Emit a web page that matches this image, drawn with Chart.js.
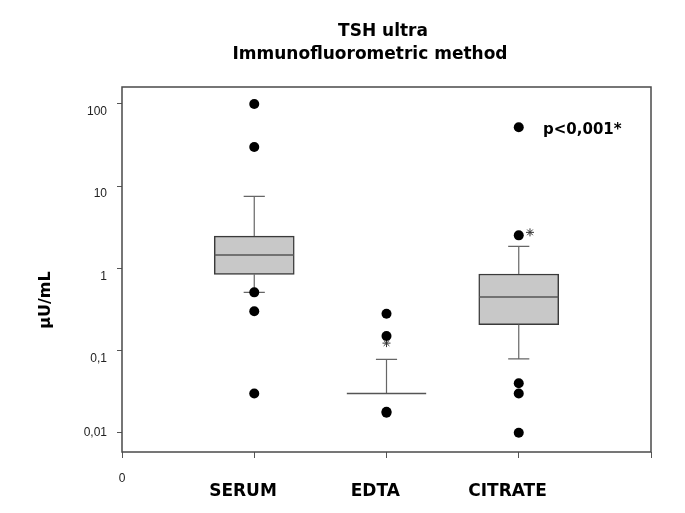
<!DOCTYPE html>
<html>
<head>
<meta charset="utf-8">
<script src="https://cdn.jsdelivr.net/npm/chart.js@4"></script>
<style>
  html, body { margin: 0; padding: 0; background: #fff; }
  #wrap { width: 685px; height: 513px; }
</style>
</head>
<body>
<div id="wrap"><canvas id="tsh-chart"></canvas></div>
<script>
// values (µU/mL)
const categories = ['SERUM', 'EDTA', 'CITRATE'];
const whiskerLow = [0.51, null, 0.079];
const q1 = [0.845, 0.03, 0.207];
const median = [1.45, 0.03, 0.448];
const q3 = [2.47, 0.03, 0.853];
const whiskerHigh = [7.5, 0.078, 1.85];
const outliers = [
  [100, 30, 0.51, 0.30, 0.03],
  [0.28, 0.15, 0.0175, 0.018],
  [52, 2.52, 0.04, 0.03, 0.01]
];
// asterisk marks (x in category units, y in µU/mL)
const asteriskX = [2, 3.085];
const asteriskY = [0.123, 2.74];

const yTickValues = [0.01, 0.1, 1, 10, 100];
const yTickLabels = ['0,01', '0,1', '1', '10', '100'];

const BOX_HALF = 0.3;
const CAP_HALF = 0.08;
const LABEL_SHIFT = 0.085;

const FONT = '"DejaVu Sans", Verdana, sans-serif';
const TICK_FONT = '"Liberation Sans", Arial, sans-serif';

function medianSegments() {
  const pts = [];
  categories.forEach((c, i) => {
    const x = i + 1;
    pts.push({ x: x - BOX_HALF, y: median[i] }, { x: x + BOX_HALF, y: median[i] }, { x: x, y: null });
  });
  return pts;
}

function whiskerSegments() {
  const pts = [];
  categories.forEach((c, i) => {
    const x = i + 1;
    if (whiskerHigh[i] != null) {
      pts.push({ x: x, y: q3[i] }, { x: x, y: whiskerHigh[i] }, { x: x, y: null });
      pts.push({ x: x - CAP_HALF, y: whiskerHigh[i] }, { x: x + CAP_HALF, y: whiskerHigh[i] }, { x: x, y: null });
    }
    if (whiskerLow[i] != null) {
      pts.push({ x: x, y: q1[i] }, { x: x, y: whiskerLow[i] }, { x: x, y: null });
      pts.push({ x: x - CAP_HALF, y: whiskerLow[i] }, { x: x + CAP_HALF, y: whiskerLow[i] }, { x: x, y: null });
    }
  });
  return pts;
}

const outlierPoints = [];
outliers.forEach((list, i) => list.forEach(v => outlierPoints.push({ x: i + 1, y: v })));

const framePlugin = {
  id: 'frame',
  afterDraw(chart) {
    const { ctx, chartArea: a } = chart;
    ctx.save();
    ctx.strokeStyle = '#4a4a4a';
    ctx.lineWidth = 1.5;
    ctx.strokeRect(a.left, a.top, a.right - a.left, a.bottom - a.top);

    ctx.fillStyle = '#000';
    ctx.font = 'bold 17px ' + FONT;
    ctx.textAlign = 'center';
    ctx.textBaseline = 'middle';
    ctx.fillText('TSH ultra', 383, 32);
    ctx.fillText('Immunofluorometric method', 370, 55);

    ctx.font = 'bold 15px ' + FONT;
    ctx.textAlign = 'left';
    ctx.fillText('p<0,001*', 543, 130);

    ctx.translate(46, 300);
    ctx.rotate(-Math.PI / 2);
    ctx.font = 'bold 16px ' + FONT;
    ctx.textAlign = 'center';
    ctx.fillText('\u00b5U/mL', 0, 0);
    ctx.restore();
  }
};

const ctx = document.getElementById('tsh-chart').getContext('2d');
new Chart(ctx, {
  type: 'scatter',
  data: {
    datasets: [
      {
        type: 'scatter',
        label: 'outliers',
        data: outlierPoints,
        pointRadius: 5,
        pointBackgroundColor: '#000',
        pointBorderWidth: 0,
        order: 0
      },
      {
        type: 'scatter',
        label: 'extremes',
        data: asteriskX.map((x, i) => ({ x: x, y: asteriskY[i] })),
        pointStyle: 'star',
        pointRadius: 4,
        pointBorderColor: '#333',
        pointBorderWidth: 1,
        order: 0
      },
      {
        type: 'line',
        label: 'median',
        data: medianSegments(),
        borderColor: '#555',
        borderWidth: 1.5,
        pointRadius: 0,
        spanGaps: false,
        order: 1
      },
      {
        type: 'line',
        label: 'whiskers',
        data: whiskerSegments(),
        borderColor: '#666',
        borderWidth: 1.2,
        pointRadius: 0,
        spanGaps: false,
        order: 2
      },
      {
        type: 'bar',
        label: 'box',
        data: categories.map((c, i) => ({ x: i + 1, y: [q1[i], q3[i]] })),
        backgroundColor: '#c8c8c8',
        borderColor: '#3a3a3a',
        borderWidth: 1.5,
        borderSkipped: false,
        barThickness: 80,
        order: 3
      }
    ]
  },
  options: {
    responsive: true,
    maintainAspectRatio: false,
    animation: false,
    layout: { padding: { top: 87, right: 34, left: 0, bottom: 0 } },
    plugins: {
      legend: { display: false },
      tooltip: { enabled: false },
      title: { display: false }
    },
    scales: {
      x: {
        type: 'linear',
        position: 'bottom',
        offset: false,
        min: 0,
        max: 4,
        afterBuildTicks: scale => { scale.ticks = [0, 1, 2, 3, 4].map(v => ({ value: v })); },
        afterFit: scale => { scale.height = 30; },
        ticks: {
          callback: v => (v === 0 ? '0' : ''),
          font: { family: TICK_FONT, size: 12 },
          color: '#222',
          padding: 13,
          maxRotation: 0,
          autoSkip: false
        },
        grid: { offset: false, drawOnChartArea: false, drawTicks: true, tickLength: 6, color: '#555' },
        border: { display: false }
      },
      names: {
        type: 'linear',
        position: 'bottom',
        offset: false,
        min: LABEL_SHIFT,
        max: 4 + LABEL_SHIFT,
        afterBuildTicks: scale => { scale.ticks = categories.map((c, i) => ({ value: i + 1 })); },
        afterFit: scale => { scale.height = 31; },
        ticks: {
          callback: v => categories[v - 1],
          font: { family: FONT, size: 17, weight: 'bold' },
          color: '#000',
          padding: -9,
          maxRotation: 0,
          autoSkip: false
        },
        grid: { display: false, offset: false },
        border: { display: false }
      },
      y: {
        type: 'logarithmic',
        position: 'left',
        min: 0.00582,
        max: 161,
        afterBuildTicks: scale => { scale.ticks = yTickValues.map(v => ({ value: v })); },
        afterFit: scale => { scale.width = 122; },
        ticks: {
          // labels sit a little under their tick marks, except the lowest one
          callback: v => {
            const i = yTickValues.indexOf(v);
            const txt = yTickLabels[i];
            return i === 0 ? txt : ['', txt];
          },
          font: { family: TICK_FONT, size: 12, lineHeight: '16px' },
          color: '#222',
          padding: 10,
          autoSkip: false
        },
        grid: { drawOnChartArea: false, drawTicks: true, tickLength: 5, color: '#555' },
        border: { display: false }
      }
    }
  },
  plugins: [framePlugin]
});
</script>
</body>
</html>
